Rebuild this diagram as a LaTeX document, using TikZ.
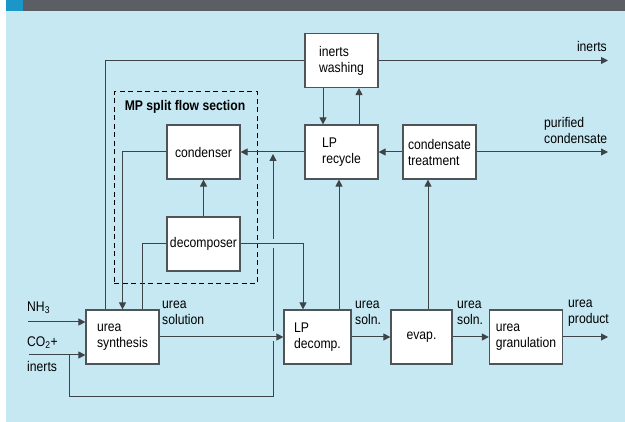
\documentclass[tikz,border=0pt]{standalone}
\usepackage{fontspec}
\setmainfont{Liberation Sans}[FakeStretch=0.87]
\usetikzlibrary{shapes,arrows.meta,calc}

\definecolor{panelblue}{HTML}{C5E8F3}
\definecolor{headgrey}{HTML}{5B5F63}
\definecolor{headblue}{HTML}{1A96C8}
\definecolor{boxgrey}{HTML}{4F5459}
\definecolor{linegrey}{HTML}{3E4348}

\begin{document}
\begin{tikzpicture}[
    x=1pt, y=-1pt,
    txt/.style={font=\fontsize{14}{16}\selectfont, inner sep=0pt},
    unit/.style={rectangle, draw=boxgrey, line width=1.2pt, fill=white, minimum width=73pt, minimum height=54pt, align=left, font=\fontsize{14}{16}\selectfont, inner sep=2pt},
    line/.style={draw=linegrey, line width=1pt},
    flow/.style={line, -{Triangle[length=7pt,width=7pt]}}
]
\useasboundingbox (0,0) rectangle (625,422);

% Background and header bar
\fill[white] (0,0) rectangle (625,422);
\fill[panelblue] (6,11) rectangle (625,422);
\fill[headgrey] (6,0) rectangle (625,11);
\fill[headblue] (6,0) rectangle (23,11);

% MP split flow section
\node[draw=black, line width=1pt, dash pattern=on 5pt off 3.5pt, minimum width=143pt, minimum height=192pt] (mpsec) at (185.5,188) {};
\node[txt, font=\fontsize{14}{16}\selectfont\bfseries] (mplabel) at (185,107) {MP split flow section};

% Units
\node[unit] (wash) at (341.5,60.5) {inerts\\washing};
\node[unit] (recyc) at (341.5,152) {LP\\recycle};
\node[unit] (ctreat) at (439.5,152) {condensate\\treatment};
\node[unit] (cndsr) at (203.5,152) {condenser};
\node[unit] (decomp) at (203.5,244) {decomposer};
\node[unit] (synth) at (122.5,337) {urea\\synthesis};
\node[unit, minimum width=67pt] (lpdec) at (317.5,337) {LP\\decomp.};
\node[unit, minimum width=61pt] (evap) at (421.5,337) {evap.};
\node[unit] (gran) at (526,337) {urea\\granulation};

% Free ends
\coordinate (nhin) at (28,322);
\coordinate (coin) at (29,355);
\coordinate (bysplit) at (69,355);
\coordinate (bycorner) at (273,397);
\coordinate (bytop) at (273,154);
\coordinate (inertout) at (608,60.5);
\coordinate (condout) at (608,152);
\coordinate (prodout) at (608,337);
\coordinate (lpup) at ([xshift=21.5pt]lpdec.north);
\coordinate (evup) at ([xshift=6.5pt]evap.north);

% Main line
\draw[flow] (nhin) -- (nhin -| synth.west);
\draw[flow] (coin) -- (coin -| synth.west);
\draw[flow] (synth) -- (lpdec);
\draw[flow] (lpdec) -- (evap);
\draw[flow] (evap) -- (gran);
\draw[flow] (gran) -- (prodout);

% CO2 bypass (broken where lines cross)
\draw[line] (bysplit) |- (bycorner) -- ([yshift=56pt]bycorner);
\draw[line] ([yshift=66pt]bycorner) -- ([yshift=149pt]bycorner);
\draw[flow] ([yshift=158pt]bycorner) -- (bytop);

% MP section
\draw[line] ([xshift=-17.5pt]synth.north) |- (wash.west);
\draw[flow] (cndsr.west) -| (synth.north);
\draw[line] (decomp.west) -| ([xshift=19.5pt]synth.north);
\draw[flow] (decomp.east) -| ([xshift=-14.5pt]lpdec.north);
\draw[flow] (decomp) -- (cndsr);

% LP section
\draw[flow] (recyc) -- (cndsr);
\draw[flow] (ctreat) -- (recyc);
\draw[flow] (ctreat) -- (condout);
\draw[flow] (wash) -- (inertout);
\draw[flow] ([xshift=-18.5pt]wash.south) -- ([xshift=-18.5pt]recyc.north);
\draw[flow] ([xshift=17.5pt]recyc.north) -- ([xshift=17.5pt]wash.south);
\draw[flow] (lpup) -- (lpup |- recyc.south);
\draw[flow] (evup) -- (evup |- ctreat.south);

% Stream labels
\node[txt, anchor=base east] (inertlbl) at (607,52) {inerts};
\node[txt, anchor=west, align=left] (purlbl) at (544,130) {purified\\condensate};
\node[txt, anchor=west, align=left] (sollbl) at (162,313) {urea\\solution};
\node[txt, anchor=west, align=left] (solna) at (355,313) {urea\\soln.};
\node[txt, anchor=west, align=left] (solnb) at (457,313) {urea\\soln.};
\node[txt, anchor=west, align=left] (prodlbl) at (568,313) {urea\\product};
\node[txt, anchor=west] (nhlbl) at (27,308) {NH\textsubscript{3}};
\node[txt, anchor=west] (colbl) at (27,343) {CO\textsubscript{2}+};
\node[txt, anchor=west] (inlbl) at (27,366) {inerts};

\end{tikzpicture}
\end{document}
